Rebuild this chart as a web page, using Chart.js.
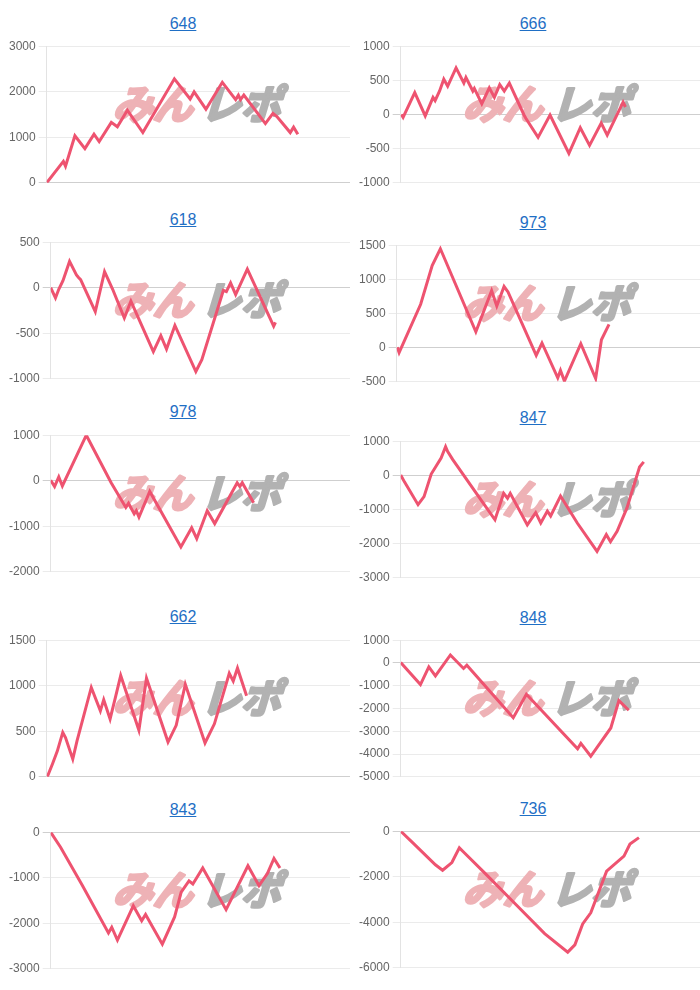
<!DOCTYPE html>
<html>
<head>
<meta charset="utf-8">
<script src="https://cdn.jsdelivr.net/npm/chart.js@4.4.1/dist/chart.umd.min.js"></script>
<style>
  body { margin: 0; background: #fff; width: 700px; height: 990px; position: relative; overflow: hidden; font-family: "Liberation Sans", Arial, sans-serif; }
  .ttl { position: absolute; width: 366px; text-align: center; font-size: 16px; line-height: 18px; }
  .ttl a { color: #1f6fc5; text-decoration: underline; }
  canvas { position: absolute; }
</style>
</head>
<body>
<script>
// machine numbers (titles)
const titles = ['648', '666', '618', '973', '978', '847', '662', '848', '843', '736'];

// x = progress along the axis (0-100), y = difference
const x648 = [0, 5.5, 6.2, 9.3, 12.6, 15.6, 17.3, 21.3, 23.3, 26.6, 31.7, 42.1, 47.3, 48.6, 52.5, 57.9, 62.3, 63.2, 63.9, 65.0, 72.1, 74.6, 75.9, 80.3, 81.4, 82.8];
const y648 = [0, 470, 366, 1033, 752, 1068, 906, 1328, 1230, 1595, 1103, 2284, 1841, 1996, 1616, 2207, 1827, 1926, 1827, 1926, 1300, 1525, 1455, 1103, 1223, 1068];

const x666 = [0.2, 0.8, 4.7, 8.2, 10.8, 11.5, 13.0, 14.4, 15.7, 18.5, 21.1, 21.8, 24.1, 24.6, 27.1, 29.6, 31.3, 33.1, 34.6, 36.3, 41.2, 41.8, 45.9, 49.9, 56.2, 60.0, 63.1, 67.0, 69.0, 74.3, 75.1];
const y666 = [0, -42, 321, -21, 251, 204, 344, 517, 415, 682, 461, 541, 344, 382, 157, 391, 251, 438, 344, 461, -7, -54, -335, -7, -569, -194, -452, -124, -302, 180, 110];

const x618 = [0, 1.6, 2.7, 4.1, 6.3, 8.6, 9.3, 10.0, 14.9, 18.0, 20.7, 24.6, 26.8, 34.3, 36.8, 38.7, 41.5, 48.5, 50.5, 57.7, 58.7, 60.1, 61.8, 65.7, 74.5, 75.1];
const y618 = [0, -112, -17, 78, 289, 141, 113, 89, -263, 176, -17, -333, -147, -702, -526, -674, -414, -920, -790, -28, -42, 54, -76, 204, -422, -380];

const x973 = [0.2, 0.8, 7.9, 11.7, 14.4, 26.1, 31.3, 33.0, 35.4, 36.7, 46.0, 47.9, 53.1, 54.0, 55.3, 60.7, 65.6, 67.5, 70.0];
const y973 = [6, -74, 635, 1202, 1448, 233, 834, 611, 895, 815, -112, 68, -443, -334, -490, 58, -452, 115, 342];

const x978 = [0, 1.3, 2.7, 3.9, 11.9, 20.2, 25.1, 26.0, 27.9, 28.6, 29.5, 33.1, 43.5, 47.1, 48.8, 52.3, 54.8, 62.3, 63.2, 64.0, 67.8];
const y978 = [12, -129, 83, -115, 1000, -44, -588, -496, -729, -658, -800, -235, -1456, -1033, -1273, -658, -941, -44, -129, -44, -482];

const x847 = [0, 1.3, 5.8, 7.8, 10.2, 13.5, 15.0, 15.7, 17.4, 27.4, 31.5, 34.4, 35.7, 36.6, 42.3, 45.1, 46.8, 49.0, 50.1, 53.4, 59.0, 65.6, 68.7, 70.1, 72.3, 75.6, 79.8, 81.2];
const y847 = [9, -198, -858, -623, 38, 509, 840, 698, 462, -792, -1302, -528, -670, -528, -1453, -1094, -1396, -1047, -1189, -604, -1396, -2226, -1736, -1943, -1642, -953, 245, 396];

const x662 = [0.2, 1.9, 3.5, 5.3, 6.2, 8.6, 10.0, 14.7, 17.7, 18.8, 20.9, 22.6, 24.4, 30.4, 32.9, 40.0, 42.7, 45.7, 52.2, 55.3, 60.2, 61.5, 62.9, 65.9];
const y662 = [0, 141, 282, 487, 431, 194, 395, 981, 724, 847, 635, 865, 1112, 512, 1083, 381, 565, 1016, 371, 582, 1136, 1051, 1193, 889];

const x848 = [0, 6.6, 9.4, 11.6, 16.6, 21.0, 22.1, 37.6, 42.0, 59.1, 60.2, 63.5, 70.2, 72.9, 76.2];
const y848 = [25, -949, -172, -567, 350, -243, -102, -2403, -1373, -3773, -3533, -4098, -2855, -1655, -2079];

const x843 = [0, 3.3, 10.5, 19.3, 20.4, 22.3, 27.6, 30.4, 31.7, 37.3, 41.4, 43.6, 46.2, 47.5, 50.8, 58.6, 65.9, 69.6, 72.4, 74.6, 76.6];
const y843 = [0, -330, -1160, -2214, -2087, -2368, -1616, -1947, -1806, -2460, -1862, -1314, -1068, -1138, -787, -1701, -738, -1174, -907, -576, -787];

const x736 = [0, 3.9, 11.6, 14.0, 17.1, 19.6, 21.0, 28.2, 37.0, 48.1, 55.8, 58.2, 60.8, 63.5, 68.8, 74.6, 76.6, 79.6];
const y736 = [0, -492, -1476, -1715, -1377, -731, -914, -1855, -3022, -4498, -5313, -4990, -4076, -3584, -1757, -1096, -562, -281];

// y axis ranges
const yMin  = [0, -1000, -1000, -500, -2000, -3000, 0, -5000, -3000, -6000];
const yMax  = [3000, 1000, 500, 1500, 1000, 1000, 1500, 1000, 0, 0];
const yStep = [1000, 500, 500, 500, 1000, 1000, 500, 1000, 1000, 2000];

const xs = [x648, x666, x618, x973, x978, x847, x662, x848, x843, x736];
const ys = [y648, y666, y618, y973, y978, y847, y662, y848, y843, y736];

// plot area tops per row / column
const plotTops = [[43, 43.3], [239.3, 242.3], [431.7, 437.7], [636.7, 637.3], [829.3, 828.3]];

const LINE = 'rgb(238, 83, 112)';

// watermark logo behind the line
const watermark = {
  id: 'watermark',
  beforeDatasetsDraw(chart) {
    const ctx = chart.ctx;
    ctx.save();
    ctx.translate(113, chart.chartArea.top + 58);
    ctx.transform(1, 0, -0.3, 1, 0, 0);
    ctx.font = 'bold 40px "Noto Sans CJK JP"';
    ctx.textBaseline = 'middle';
    ctx.lineJoin = 'round';
    ctx.lineWidth = 3;
    ctx.fillStyle = ctx.strokeStyle = 'rgb(238, 178, 182)';
    ctx.fillText('みん', 4, 0);
    ctx.strokeText('みん', 4, 0);
    ctx.fillStyle = ctx.strokeStyle = 'rgb(178, 178, 178)';
    ctx.fillText('レポ', 92, 0);
    ctx.strokeText('レポ', 92, 0);
    ctx.restore();
  }
};

titles.forEach((t, i) => {
  const col = i % 2;
  const row = Math.floor(i / 2);
  const top = plotTops[row][col];

  const div = document.createElement('div');
  div.className = 'ttl';
  div.style.left = (col * 350) + 'px';
  div.style.top = (top - 19.5 - 9) + 'px';
  div.innerHTML = '<a href="#">' + t + '</a>';
  document.body.appendChild(div);

  const canvas = document.createElement('canvas');
  canvas.width = 350;
  canvas.height = 157;
  canvas.style.left = (col * 350) + 'px';
  canvas.style.top = Math.round(top - 7.2) + 'px';
  document.body.appendChild(canvas);

  new Chart(canvas, {
    type: 'line',
    data: {
      datasets: [{
        data: xs[i].map((x, k) => ({ x: x, y: ys[i][k] })),
        borderColor: LINE,
        borderWidth: 3,
        pointRadius: 0,
        tension: 0,
        fill: false
      }]
    },
    options: {
      responsive: false,
      animation: false,
      devicePixelRatio: 1,
      layout: { padding: { left: 6, right: 0, top: 0, bottom: 0 } },
      plugins: { legend: { display: false }, tooltip: { enabled: false } },
      scales: {
        x: { type: 'linear', min: 0, max: 100, display: false },
        y: {
          min: yMin[i],
          max: yMax[i],
          ticks: {
            stepSize: yStep[i],
            color: '#666',
            font: { family: '"Liberation Sans", Arial, sans-serif', size: 12 },
            callback: v => String(v)
          },
          grid: {
            color: c => (c.tick && c.tick.value === 0) ? '#cfcfcf' : '#ebebeb'
          },
          border: { color: '#e3e3e3' }
        }
      }
    },
    plugins: [watermark]
  });
});
</script>
</body>
</html>
